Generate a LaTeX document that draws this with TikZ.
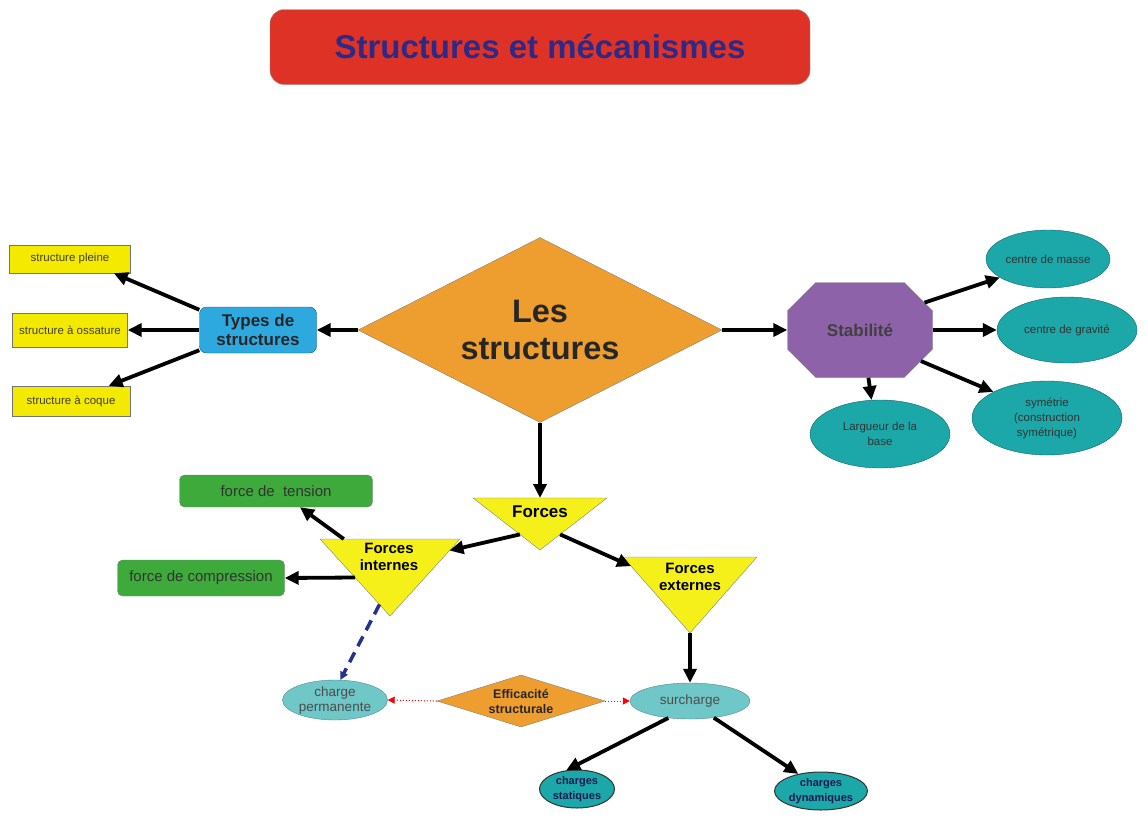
\documentclass[tikz,border=0pt]{standalone}
\usepackage{fontspec}
\setmainfont{Liberation Sans}
\usetikzlibrary{shapes.geometric,shapes.misc,arrows.meta,calc}

\definecolor{titlered}{HTML}{DE3226}
\definecolor{titleblue}{HTML}{2B2A88}
\definecolor{mainorange}{HTML}{EE9E2E}
\definecolor{typeblue}{HTML}{2EA9E0}
\definecolor{boxyellow}{HTML}{F3EA00}
\definecolor{triyellow}{HTML}{F5F01A}
\definecolor{stabpurple}{HTML}{8E62A8}
\definecolor{tealdark}{HTML}{1CA7A8}
\definecolor{teallight}{HTML}{6FC7C8}
\definecolor{boxgreen}{HTML}{3DAA3B}
\definecolor{dashblue}{HTML}{23318F}

\begin{document}
\begin{tikzpicture}[x=1pt, y=-1pt,
  every node/.style={inner sep=0pt, align=center, text=black!80},
  arr/.style={line width=3.8pt, -{Triangle[length=14pt,width=13pt]}},
  small/.style={font=\fontsize{11.5}{15}\selectfont},
  ybox/.style={draw=black!55, fill=boxyellow, small, text=black!70!olive},
  gbox/.style={draw=black!50, fill=boxgreen, rounded corners=5pt, font=\fontsize{15}{18}\selectfont},
  tbell/.style={ellipse, draw=tealdark!60!black, fill=tealdark, small},
  ltell/.style={ellipse, draw=teallight!70!black, fill=teallight, font=\fontsize{13.5}{15}\selectfont, text=black!70},
  chell/.style={ellipse, draw=black!80, line width=1pt, fill=tealdark, font=\bfseries\fontsize{11}{15}\selectfont, text=titleblue!60!black},
  tri/.style={draw=black!50, fill=triyellow},
  reddot/.style={red, dotted, line width=1pt, -{Triangle[length=7pt,width=7pt]}}]
  \useasboundingbox (0,0) rectangle (1148,822);

  \node[draw=black!40, fill=titlered, rounded corners=14pt, minimum width=540pt, minimum height=75pt,
        font=\bfseries\fontsize{33}{36}\selectfont, text=titleblue] (title) at (540,47) {Structures et mécanismes};

  \node[diamond, aspect=2, draw=black!50, fill=mainorange, minimum width=364pt, minimum height=185pt,
        font=\bfseries\fontsize{32.5}{37}\selectfont, text=black!85] (les) at (540,330) {Les\\structures};

  \node[draw=typeblue!50!black, fill=typeblue, rounded corners=7pt, minimum width=117pt, minimum height=46pt,
        font=\bfseries\fontsize{17}{19}\selectfont, text=black!85] (types) at (258,330) {Types de\\structures};
  \node[ybox, minimum width=121pt, minimum height=28pt] (pleine)   at (70,259) {structure pleine};
  \node[ybox, minimum width=115pt, minimum height=34pt] (ossature) at (70,330) {structure à ossature};
  \node[ybox, minimum width=118pt, minimum height=30pt] (coque)    at (71,401) {structure à coque};

  \node[chamfered rectangle, chamfered rectangle xsep=24pt, chamfered rectangle ysep=22pt, draw=black!50,
        fill=stabpurple, minimum width=145pt, minimum height=95pt,
        font=\bfseries\fontsize{17}{19}\selectfont, text=black!75] (stab) at (860,330) {Stabilité};
  \node[tbell, minimum width=124pt, minimum height=58pt] (masse)   at (1048,259) {centre de masse};
  \node[tbell, minimum width=140pt, minimum height=66pt] (gravite) at (1067,330) {centre de gravité};
  \node[tbell, minimum width=150pt, minimum height=74pt] (sym)     at (1047,418) {symétrie\\(construction\\symétrique)};
  \node[tbell, minimum width=140pt, minimum height=68pt] (largeur) at (880,434) {Largueur de la\\base};

  \coordinate (fL) at (473,498); \coordinate (fR) at (607,498); \coordinate (fB) at (540,550);
  \coordinate (iL) at (320,539); \coordinate (iR) at (460,539); \coordinate (iB) at (390,616);
  \coordinate (eL) at (623,557); \coordinate (eR) at (757,557); \coordinate (eB) at (690,633);
  \draw[tri] (fL)--(fR)--(fB)--cycle;
  \draw[tri] (iL)--(iR)--(iB)--cycle;
  \draw[tri] (eL)--(eR)--(eB)--cycle;
  \node[font=\bfseries\fontsize{17}{19}\selectfont, text=black] (forces) at (540,512) {Forces};
  \node[font=\bfseries\fontsize{15}{17}\selectfont, text=black] (fint) at (389,557) {Forces\\internes};
  \node[font=\bfseries\fontsize{15}{17}\selectfont, text=black] (fext) at (690,577) {Forces\\externes};

  \node[gbox, minimum width=193pt, minimum height=32pt] (tension) at (276,491) {force de\ \ tension};
  \node[gbox, minimum width=167pt, minimum height=36pt] (compr)   at (201,578) {force de compression};

  \node[ltell, minimum width=105pt, minimum height=40pt] (cperm) at (335,700) {charge\\permanente};
  \node[ltell, minimum width=120pt, minimum height=36pt] (surch) at (690,701) {surcharge};
  \node[diamond, aspect=3.2, draw=black!50, fill=mainorange, minimum width=168pt, minimum height=52pt,
        font=\bfseries\fontsize{12.5}{15}\selectfont, text=black!85] (eff) at (521,701) {Efficacité\\structurale};
  \node[chell, minimum width=75pt, minimum height=38pt] (stat) at (577,789) {charges\\statiques};
  \node[chell, minimum width=93pt, minimum height=38pt] (dyn)  at (821,791) {charges\\dynamiques};

  \draw[arr] (types.161) -- (pleine.-18);
  \draw[arr] (types.west) -- (ossature.east);
  \draw[arr] (types.199) -- (coque.22);
  \draw[arr] (les.west) -- (types.east);
  \draw[arr] (les.east) -- (stab.west);
  \draw[arr] (les.south) -- ($(fL)!.5!(fR)$);
  \draw[arr] (stab.23) -- (masse.201);
  \draw[arr] (stab.east) -- (gravite.west);
  \draw[arr] (stab.-27) -- (sym.154);
  \draw[arr] (stab.-80) -- (largeur.104);
  \draw[arr] ($(fL)!.7!(fB)$) -- ($(iR)!.15!(iB)$);
  \draw[arr] ($(fR)!.7!(fB)$) -- ($(eL)!.12!(eB)$);
  \draw[arr] ($(iL)!.17!(iR)$) -- (tension.-34);
  \draw[arr] ($(iL)!.5!(iB)$) -- (compr.east);
  \draw[arr] (eB) -- (surch.north);
  \draw[line width=3.5pt, dashblue, dash pattern=on 11pt off 7pt, -{Triangle[length=8pt,width=8pt]}]
    ($(iL)!.85!(iB)$) -- (cperm.75);
  \draw[reddot] (eff.west) -- (cperm.east);
  \draw[reddot] (eff.east) -- (surch.west);
  \draw[arr] (surch.218) -- (stat.120);
  \draw[arr] (surch.-35) -- (dyn.143);
\end{tikzpicture}
\end{document}
